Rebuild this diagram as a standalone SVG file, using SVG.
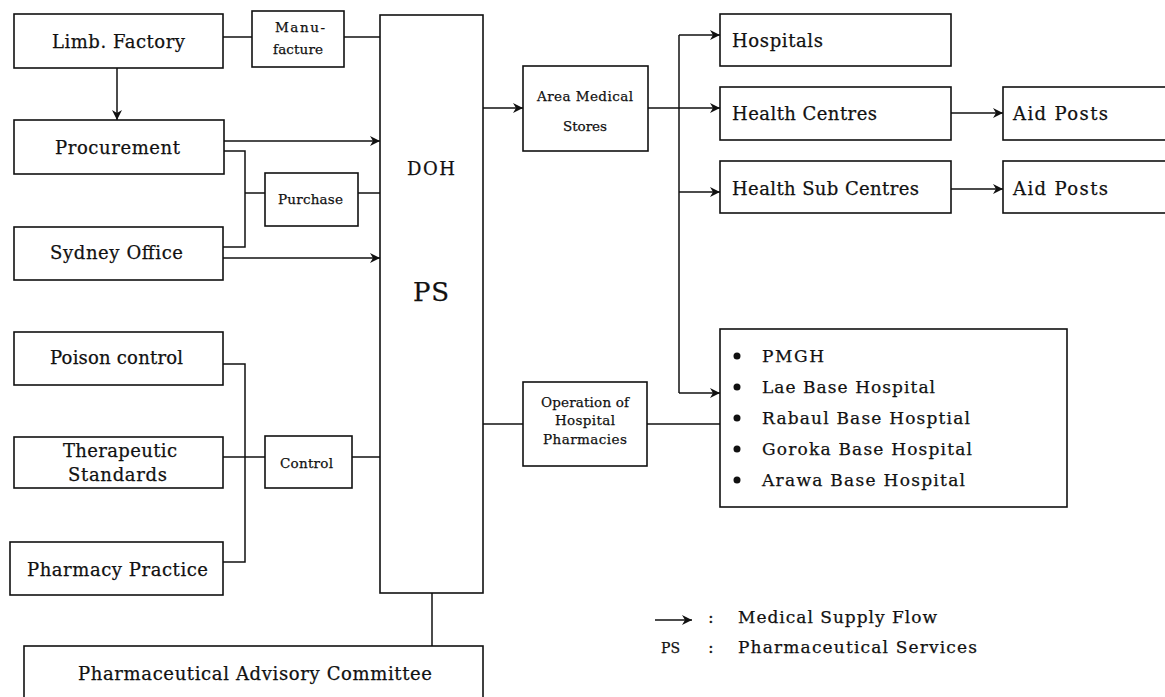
<svg xmlns="http://www.w3.org/2000/svg" width="1165" height="697" viewBox="0 0 1165 697">
  <style>
    .box { fill: #fff; stroke: #111; stroke-width: 1.6; }
    .ln { fill: none; stroke: #111; stroke-width: 1.5; }
    .arr { fill: none; stroke: #111; stroke-width: 1.5; marker-end: url(#ah); }
    text { font-family: "DejaVu Serif", "Liberation Serif", serif; fill: #111; stroke: #111; stroke-width: 0.25; }
    .lg { font-size: 18px; }
    .sm { font-size: 13.5px; }
    .li { font-size: 17px; }
    .ps { font-size: 14px; }
    .big { font-size: 26px; }
    .dot { fill: #111; }
  </style>
  <defs>
    <marker id="ah" markerUnits="userSpaceOnUse" markerWidth="11" markerHeight="11" refX="10" refY="5.5" orient="auto">
      <path d="M0,0.5 L10,5.5 L0,10.5 L3,5.5 z" fill="#111"/>
    </marker>
  </defs>

  <!-- connectors -->
  <g id="connectors">
    <line class="ln" x1="223" y1="37" x2="252" y2="37"/>
    <line class="ln" x1="344" y1="37" x2="380" y2="37"/>
    <line class="arr" x1="117" y1="68" x2="117" y2="120"/>
    <line class="arr" x1="224" y1="141" x2="380" y2="141"/>
    <polyline class="ln" points="224,151 245,151 245,247 223,247"/>
    <line class="ln" x1="245" y1="193" x2="265" y2="193"/>
    <line class="ln" x1="358" y1="193" x2="380" y2="193"/>
    <line class="arr" x1="223" y1="258" x2="380" y2="258"/>
    <polyline class="ln" points="223,364 245,364 245,562 223,562"/>
    <line class="ln" x1="223" y1="457" x2="265" y2="457"/>
    <line class="ln" x1="352" y1="457" x2="380" y2="457"/>
    <line class="ln" x1="432" y1="593" x2="432" y2="646"/>
    <line class="arr" x1="483" y1="108" x2="523" y2="108"/>
    <line class="arr" x1="648" y1="108" x2="720" y2="108"/>
    <line class="ln" x1="679" y1="35" x2="679" y2="393"/>
    <line class="arr" x1="679" y1="35" x2="720" y2="35"/>
    <line class="arr" x1="679" y1="192" x2="720" y2="192"/>
    <line class="arr" x1="679" y1="393" x2="720" y2="393"/>
    <line class="arr" x1="951" y1="113" x2="1003" y2="113"/>
    <line class="arr" x1="951" y1="189" x2="1003" y2="189"/>
    <line class="ln" x1="483" y1="424" x2="523" y2="424"/>
    <line class="ln" x1="647" y1="424" x2="720" y2="424"/>
  </g>

  <g id="limb-factory">
    <rect class="box" x="14" y="14" width="209" height="54"/>
    <text class="lg" x="52" y="48" textLength="133">Limb. Factory</text>
  </g>
  <g id="manufacture">
    <rect class="box" x="252" y="11" width="92" height="56"/>
    <text class="sm" x="275" y="32" textLength="50">Manu-</text>
    <text class="sm" x="273" y="54" textLength="50">facture</text>
  </g>
  <g id="procurement">
    <rect class="box" x="14" y="120" width="210" height="54"/>
    <text class="lg" x="55" y="154" textLength="125">Procurement</text>
  </g>
  <g id="purchase">
    <rect class="box" x="265" y="173" width="93" height="53"/>
    <text class="sm" x="278" y="204" textLength="65">Purchase</text>
  </g>
  <g id="sydney-office">
    <rect class="box" x="14" y="227" width="209" height="53"/>
    <text class="lg" x="50" y="259" textLength="133">Sydney Office</text>
  </g>
  <g id="poison-control">
    <rect class="box" x="14" y="332" width="209" height="53"/>
    <text class="lg" x="50" y="364" textLength="133">Poison control</text>
  </g>
  <g id="therapeutic-standards">
    <rect class="box" x="14" y="437" width="209" height="51"/>
    <text class="lg" x="63" y="457" textLength="114">Therapeutic</text>
    <text class="lg" x="68" y="481" textLength="99">Standards</text>
  </g>
  <g id="control">
    <rect class="box" x="265" y="436" width="87" height="52"/>
    <text class="sm" x="280" y="468" textLength="53">Control</text>
  </g>
  <g id="pharmacy-practice">
    <rect class="box" x="10" y="542" width="213" height="53"/>
    <text class="lg" x="27" y="576" textLength="181">Pharmacy Practice</text>
  </g>
  <g id="advisory-committee">
    <rect class="box" x="24" y="646" width="459" height="60"/>
    <text class="lg" x="78" y="680" textLength="354">Pharmaceutical Advisory Committee</text>
  </g>
  <g id="doh-ps">
    <rect class="box" x="380" y="15" width="103" height="578"/>
    <text class="lg" x="407" y="175" textLength="48">DOH</text>
    <text class="big" x="413" y="301" textLength="36">PS</text>
  </g>
  <g id="area-medical-stores">
    <rect class="box" x="523" y="66" width="125" height="85"/>
    <text class="sm" x="537" y="101" textLength="96">Area Medical</text>
    <text class="sm" x="563" y="131" textLength="44">Stores</text>
  </g>
  <g id="hospital-pharmacies">
    <rect class="box" x="523" y="382" width="124" height="84"/>
    <text class="sm" x="541" y="407" textLength="88">Operation of</text>
    <text class="sm" x="555" y="425" textLength="60">Hospital</text>
    <text class="sm" x="543" y="444" textLength="84">Pharmacies</text>
  </g>
  <g id="hospitals">
    <rect class="box" x="720" y="14" width="231" height="52"/>
    <text class="lg" x="732" y="47" textLength="91">Hospitals</text>
  </g>
  <g id="health-centres">
    <rect class="box" x="720" y="87" width="231" height="53"/>
    <text class="lg" x="732" y="120" textLength="145">Health Centres</text>
  </g>
  <g id="health-sub-centres">
    <rect class="box" x="720" y="161" width="231" height="52"/>
    <text class="lg" x="732" y="195" textLength="187">Health Sub Centres</text>
  </g>
  <g id="aid-posts-1">
    <rect class="box" x="1003" y="87" width="170" height="53"/>
    <text class="lg" x="1013" y="120" textLength="95">Aid Posts</text>
  </g>
  <g id="aid-posts-2">
    <rect class="box" x="1003" y="161" width="170" height="52"/>
    <text class="lg" x="1013" y="195" textLength="95">Aid Posts</text>
  </g>
  <g id="base-hospitals">
    <rect class="box" x="720" y="329" width="347" height="178"/>
    <circle class="dot" cx="737" cy="356" r="3.5"/>
    <circle class="dot" cx="737" cy="387" r="3.5"/>
    <circle class="dot" cx="737" cy="418" r="3.5"/>
    <circle class="dot" cx="737" cy="449" r="3.5"/>
    <circle class="dot" cx="737" cy="480" r="3.5"/>
    <text class="li" x="762" y="362" textLength="62">PMGH</text>
    <text class="li" x="762" y="393" textLength="173">Lae Base Hospital</text>
    <text class="li" x="762" y="424" textLength="208">Rabaul Base Hosptial</text>
    <text class="li" x="762" y="455" textLength="210">Goroka Base Hospital</text>
    <text class="li" x="762" y="486" textLength="203">Arawa Base Hospital</text>
  </g>

  <!-- legend -->
  <g id="legend">
    <line class="arr" x1="655" y1="620" x2="692" y2="620"/>
    <text class="li" x="708" y="623">:</text>
    <text class="li" x="738" y="623" textLength="199">Medical Supply Flow</text>
    <text class="ps" x="661" y="653">PS</text>
    <text class="li" x="708" y="653">:</text>
    <text class="li" x="738" y="653" textLength="239">Pharmaceutical Services</text>
  </g>
</svg>
